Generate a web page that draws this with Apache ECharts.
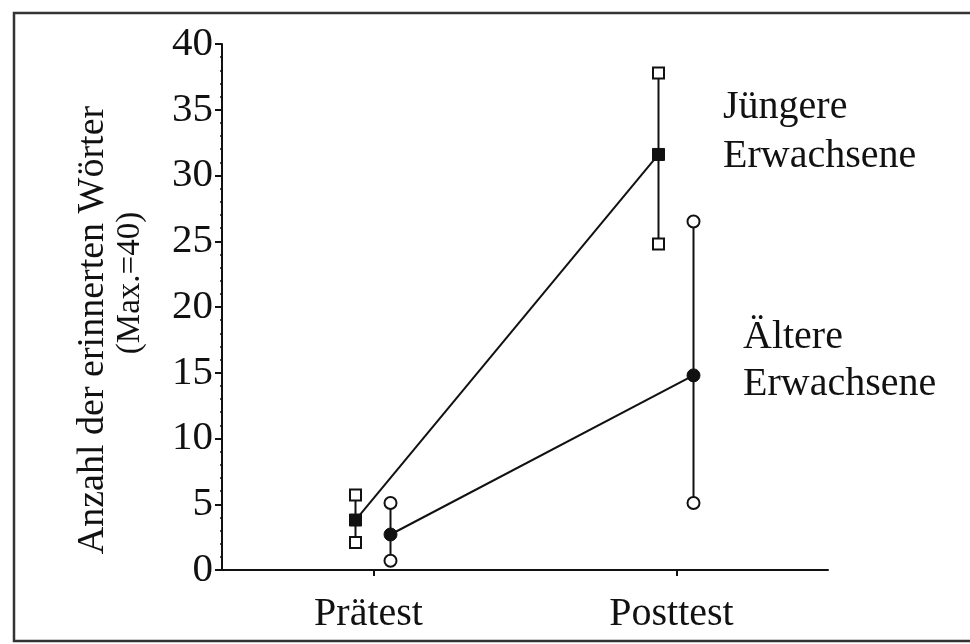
<!DOCTYPE html>
<html>
<head>
<meta charset="utf-8">
<script src="https://cdn.jsdelivr.net/npm/echarts@6/dist/echarts.min.js"></script>
<style>
html,body{margin:0;padding:0;background:#fff;}
#chart{width:970px;height:644px;}
</style>
</head>
<body>
<div id="chart"></div>
<script>
const categories = ['Prätest', 'Posttest'];
const yTicks = [0, 5, 10, 15, 20, 25, 30, 35, 40];
const youngMean = [3.8, 31.6];
const youngHigh = [5.7, 37.8];
const youngLow = [2.1, 24.8];
const oldMean = [2.7, 14.8];
const oldHigh = [5.1, 26.5];
const oldLow = [0.7, 5.1];
const groupLabels = [['Jüngere', 'Erwachsene'], ['Ältere', 'Erwachsene']];
const yTitle = ['Anzahl der erinnerten Wörter', '(Max.=40)'];

const FONT = '"Liberation Serif", "Times New Roman", serif';
const INK = '#111';

function makeRender(mean, high, low, offset, shape) {
  return function (params, api) {
    const i = params.dataIndex;
    const pm = api.coord([i, mean[i]]);
    const ph = api.coord([i, high[i]]);
    const pl = api.coord([i, low[i]]);
    const x = pm[0] + offset;
    const children = [];
    if (i > 0) {
      const pp = api.coord([i - 1, mean[i - 1]]);
      children.push({
        type: 'line',
        shape: { x1: pp[0] + offset, y1: pp[1], x2: x, y2: pm[1] },
        style: { stroke: INK, lineWidth: 2 }
      });
    }
    children.push({
      type: 'line',
      shape: { x1: x, y1: ph[1], x2: x, y2: pl[1] },
      style: { stroke: INK, lineWidth: 2 }
    });
    const ends = [ph[1], pl[1]];
    ends.forEach(function (yy) {
      if (shape === 'square') {
        children.push({ type: 'rect', shape: { x: x - 5.5, y: yy - 5.5, width: 11, height: 11 },
          style: { fill: '#fff', stroke: INK, lineWidth: 2 } });
      } else {
        children.push({ type: 'circle', shape: { cx: x, cy: yy, r: 6 },
          style: { fill: '#fff', stroke: INK, lineWidth: 2 } });
      }
    });
    if (shape === 'square') {
      children.push({ type: 'rect', shape: { x: x - 6, y: pm[1] - 6, width: 12, height: 12 },
        style: { fill: INK, stroke: INK, lineWidth: 1 } });
    } else {
      children.push({ type: 'circle', shape: { cx: x, cy: pm[1], r: 6.5 },
        style: { fill: INK, stroke: INK, lineWidth: 1 } });
    }
    return { type: 'group', children: children };
  };
}

const chart = echarts.init(document.getElementById('chart'), null, { renderer: 'canvas' });
chart.setOption({
  backgroundColor: '#fff',
  animation: false,
  grid: { left: 222, right: 142, top: 44, bottom: 74 },
  xAxis: {
    type: 'category',
    data: categories,
    boundaryGap: true,
    axisLine: { lineStyle: { color: INK, width: 2 } },
    axisTick: { show: true, alignWithLabel: true, inside: false, length: 6, lineStyle: { color: INK, width: 2 } },
    axisLabel: { fontFamily: FONT, fontSize: 40, color: INK, margin: 24, padding: [0, 10, 0, 0] },
    splitLine: { show: false }
  },
  yAxis: {
    type: 'value',
    min: yTicks[0],
    max: yTicks[yTicks.length - 1],
    interval: yTicks[1] - yTicks[0],
    axisLine: { show: true, lineStyle: { color: INK, width: 2 } },
    axisTick: { show: true, length: 7, lineStyle: { color: INK, width: 2 } },
    minorTick: { show: true, splitNumber: 5, length: 2, lineStyle: { color: INK, width: 1.5 } },
    axisLabel: { fontFamily: FONT, fontSize: 41, color: INK, margin: 9 },
    splitLine: { show: false }
  },
  series: [
    { type: 'custom', name: 'Jüngere Erwachsene', data: youngMean.map(function (v, i) { return [i, v]; }),
      renderItem: makeRender(youngMean, youngHigh, youngLow, -18, 'square'), clip: false },
    { type: 'custom', name: 'Ältere Erwachsene', data: oldMean.map(function (v, i) { return [i, v]; }),
      renderItem: makeRender(oldMean, oldHigh, oldLow, 17, 'circle'), clip: false }
  ],
  graphic: [
    { type: 'rect', shape: { x: 14, y: 13, width: 1000, height: 628 },
      style: { fill: 'none', stroke: '#333', lineWidth: 2.5 }, silent: true },
    { type: 'text', x: 93, y: 330, rotation: Math.PI / 2,
      style: { text: yTitle[0], font: '38px ' + FONT, fill: INK, textAlign: 'center', textVerticalAlign: 'middle' } },
    { type: 'text', x: 130, y: 283, rotation: Math.PI / 2,
      style: { text: yTitle[1], font: '33px ' + FONT, fill: INK, textAlign: 'center', textVerticalAlign: 'middle' } },
    { type: 'text', x: 723, y: 107,
      style: { text: groupLabels[0][0], font: '40px ' + FONT, fill: INK, textAlign: 'left', textVerticalAlign: 'middle' } },
    { type: 'text', x: 723, y: 156,
      style: { text: groupLabels[0][1], font: '40px ' + FONT, fill: INK, textAlign: 'left', textVerticalAlign: 'middle' } },
    { type: 'text', x: 743, y: 337,
      style: { text: groupLabels[1][0], font: '40px ' + FONT, fill: INK, textAlign: 'left', textVerticalAlign: 'middle' } },
    { type: 'text', x: 743, y: 384,
      style: { text: groupLabels[1][1], font: '40px ' + FONT, fill: INK, textAlign: 'left', textVerticalAlign: 'middle' } }
  ]
});
</script>
</body>
</html>
